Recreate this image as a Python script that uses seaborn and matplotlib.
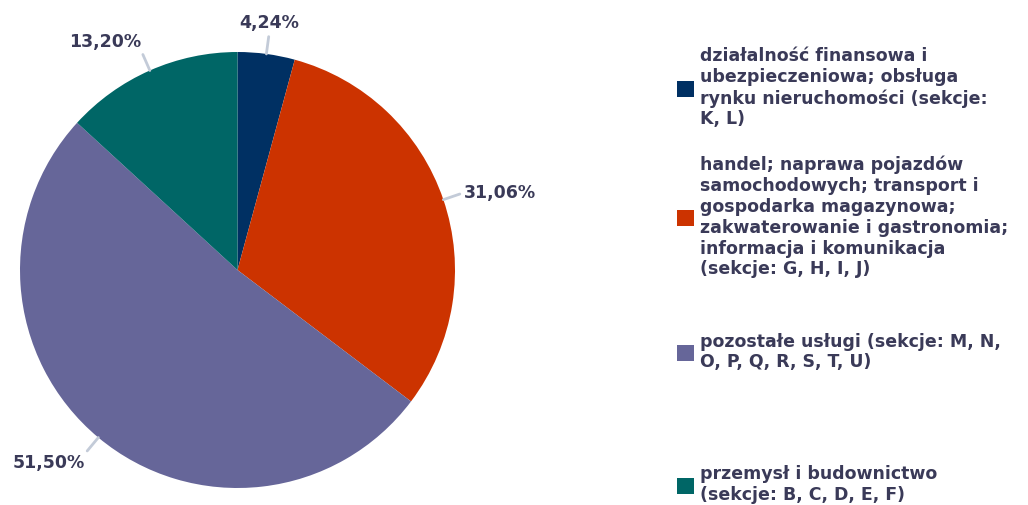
import numpy as np
import matplotlib
matplotlib.use("Agg")
import matplotlib.pyplot as plt
import seaborn as sns

# data
categories = [
    "działalność finansowa i\nubezpieczeniowa; obsługa\nrynku nieruchomości (sekcje:\nK, L)",
    "handel; naprawa pojazdów\nsamochodowych; transport i\ngospodarka magazynowa;\nzakwaterowanie i gastronomia;\ninformacja i komunikacja\n(sekcje: G, H, I, J)",
    "pozostałe usługi (sekcje: M, N,\nO, P, Q, R, S, T, U)",
    "przemysł i budownictwo\n(sekcje: B, C, D, E, F)",
]
shares = [4.24, 31.06, 51.50, 13.20]
share_labels = ["4,24%", "31,06%", "51,50%", "13,20%"]
colors = ["#003063", "#cc3300", "#666699", "#006666"]

sns.set_theme(style="white")
plt.rcParams["font.family"] = ["DejaVu Sans"]
text_color = "#3a3a58"

fig = plt.figure(figsize=(10.28, 5.05), dpi=100)
ax = fig.add_axes([20 / 1028, 17 / 505, 435 / 1028, 436 / 505])

wedges, _ = ax.pie(shares, colors=colors, startangle=90, counterclock=False,
                   radius=1.0, wedgeprops=dict(linewidth=0))
ax.set_xlim(-1, 1)
ax.set_ylim(-1, 1)
ax.set_aspect("auto")
ax.axis("off")

# percentage labels with short leader lines
for w, lab in zip(wedges, share_labels):
    ang = np.deg2rad((w.theta1 + w.theta2) / 2)
    c, s = np.cos(ang), np.sin(ang)
    ax.plot([c * 1.0, c * 1.08], [s * 1.0, s * 1.08], color="#c3cbd8",
            lw=2, clip_on=False)
    ha = "left" if c > 0 else "right"
    if abs(s) < 0.5:
        va = "center"
    else:
        va = "bottom" if s > 0 else "top"
    if abs(c) < 0.2:
        ha = "center"
    ax.text(c * 1.1, s * 1.1, lab, ha=ha, va=va, fontsize=12.5,
            fontweight="bold", color=text_color)

# legend entries, one per category, spaced like the reference
legend_y = [0.826, 0.570, 0.303, 0.040]
for w, lab, y in zip(wedges, categories, legend_y):
    fig.legend(handles=[w], labels=[lab], loc="center left",
               bbox_to_anchor=(677 / 1028, y), frameon=False,
               borderpad=0, borderaxespad=0, handlelength=1.0,
               handleheight=1.0, handletextpad=0.3, labelspacing=0,
               prop=dict(size=12.5, weight="bold"), labelcolor=text_color)

fig.savefig("out.png", dpi=100)
